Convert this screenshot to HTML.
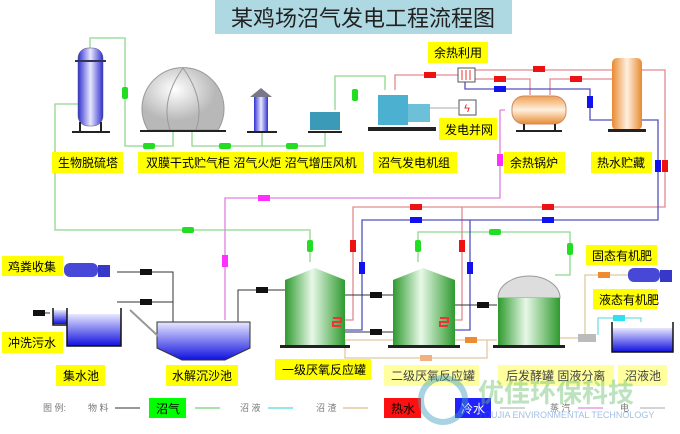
<!DOCTYPE html>
<html><head><meta charset="utf-8"><style>
body{margin:0;background:#fff;}
svg{display:block;font-family:"Liberation Sans","Noto Sans CJK SC",sans-serif;}
.l{font-size:12px;fill:#000;}
</style></head><body>
<svg width="680" height="434" viewBox="0 0 680 434" xmlns="http://www.w3.org/2000/svg">
<defs>
<linearGradient id="bl" x1="0" x2="1"><stop offset="0" stop-color="#3030d0"/><stop offset=".5" stop-color="#e8e8ff"/><stop offset="1" stop-color="#3030d0"/></linearGradient>
<linearGradient id="bv" x1="0" y1="0" x2="0" y2="1"><stop offset="0" stop-color="#e8e8ff"/><stop offset="1" stop-color="#1010e0"/></linearGradient>
<linearGradient id="or" x1="0" x2="1"><stop offset="0" stop-color="#e88a30"/><stop offset=".5" stop-color="#fff0e0"/><stop offset="1" stop-color="#e88a30"/></linearGradient>
<linearGradient id="orv" x1="0" y1="0" x2="0" y2="1"><stop offset="0" stop-color="#f0a050"/><stop offset=".5" stop-color="#fff0e0"/><stop offset="1" stop-color="#e88a30"/></linearGradient>
<linearGradient id="gr" x1="0" x2="1"><stop offset="0" stop-color="#2e9a2e"/><stop offset=".45" stop-color="#e8f8e8"/><stop offset="1" stop-color="#2e9a2e"/></linearGradient>
<radialGradient id="dm" cx=".4" cy=".35"><stop offset="0" stop-color="#fff"/><stop offset="1" stop-color="#b8b8b8"/></radialGradient>
</defs>
<rect x="215" y="0" width="297" height="34" fill="#aed8e2"/>
<text x="363" y="26" font-size="22" text-anchor="middle" fill="#222">某鸡场沼气发电工程流程图</text>

<g fill="none" stroke="#8ed88e" stroke-width="1.3">
<path d="M90 48V38H125V146H173V131"/>
<path d="M192 131V146H325V131"/>
<path d="M262 131V146"/>
<path d="M335 110V76H385V90"/>
<path d="M78 104H55V230H310V262"/>
<path d="M418 262V232H570V275H555"/>
</g>
<g fill="#22dd22">
<rect x="122" y="87" width="6" height="12" rx="2"/>
<rect x="143" y="143" width="12" height="6" rx="2"/>
<rect x="219" y="143" width="12" height="6" rx="2"/>
<rect x="286" y="143" width="12" height="6" rx="2"/>
<rect x="352" y="89" width="6" height="12" rx="2"/>
<rect x="182" y="227" width="12" height="6" rx="2"/>
<rect x="307" y="240" width="6" height="12" rx="2"/>
<rect x="415" y="240" width="6" height="12" rx="2"/>
<rect x="489" y="229" width="12" height="6" rx="2"/>
<rect x="567" y="243" width="6" height="12" rx="2"/>
</g>
<path d="M500 110H505M500 110V198H225V320" fill="none" stroke="#e080e0" stroke-width="1.3"/>
<rect x="497" y="154" width="6" height="12" fill="#ff30ff"/>
<rect x="258" y="195" width="12" height="6" fill="#ff30ff"/>
<rect x="222" y="255" width="6" height="12" fill="#ff30ff"/>
<g fill="none" stroke="#e08a90" stroke-width="1.3">
<path d="M395 90V75H460"/>
<path d="M475 70H612"/>
<path d="M475 79H530V95"/>
<path d="M550 95V79H612"/>
<path d="M641 70H665V207H353V320H340"/>
<path d="M462 207V320H450"/>
</g>
<g fill="none" stroke="#5050c0" stroke-width="1.3">
<path d="M465 80V89H590V120H612"/>
<path d="M641 120H658V220H362V330H345"/>
<path d="M470 220V330H455"/>
</g>
<g fill="#ee1111">
<rect x="424" y="72" width="12" height="6"/><rect x="533" y="66" width="12" height="6"/><rect x="494" y="76" width="12" height="6"/><rect x="570" y="76" width="12" height="6"/>
<rect x="662" y="160" width="6" height="12"/><rect x="410" y="204" width="12" height="6"/><rect x="542" y="204" width="12" height="6"/>
<rect x="350" y="240" width="6" height="12"/><rect x="459" y="240" width="6" height="12"/>
</g>
<g fill="#1111ee">
<rect x="494" y="86" width="12" height="6"/><rect x="587" y="96" width="6" height="12"/><rect x="655" y="160" width="6" height="12"/>
<rect x="410" y="217" width="12" height="6"/><rect x="542" y="217" width="12" height="6"/>
<rect x="359" y="262" width="6" height="12"/><rect x="467" y="262" width="6" height="12"/>
</g>
<g fill="none" stroke="#333" stroke-width="1">
<path d="M117 272H173V322"/><path d="M117 302H173"/><path d="M238 322V290H285"/>
<path d="M345 295H393"/><path d="M345 332H393"/><path d="M455 305H497"/>
<path d="M40 313H50"/>
</g>
<g fill="#111">
<rect x="140" y="269" width="12" height="6"/><rect x="140" y="299" width="12" height="6"/><rect x="256" y="287" width="12" height="6"/>
<rect x="370" y="292" width="12" height="6"/><rect x="370" y="329" width="12" height="6"/><rect x="477" y="302" width="12" height="6"/>
<rect x="33" y="310" width="12" height="6"/>
</g>
<g fill="none" stroke="#e0c8a0" stroke-width="1.3">
<path d="M345 340H497"/><path d="M345 340V358H487V340"/><path d="M560 338H585V275H630"/>
</g>
<rect x="465" y="337" width="12" height="6" fill="#f08a30"/><rect x="420" y="355" width="12" height="6" fill="#f0b080"/><rect x="598" y="272" width="12" height="6" fill="#f08a30"/>
<path d="M598 335V318H641V322" fill="none" stroke="#70e0e0" stroke-width="1.3"/>
<rect x="613" y="315" width="12" height="6" fill="#30e0f0"/>

<rect x="78" y="48" width="25" height="78" rx="10" fill="url(#bl)" stroke="#556" stroke-width=".5"/>
<rect x="75" y="60" width="31" height="2" fill="#335"/>
<path d="M80 122V132M101 122V132" stroke="#222" stroke-width="2"/><rect x="72" y="131" width="38" height="2" fill="#222"/>
<path d="M148 130A41 41 0 1 1 218 130Z" fill="url(#dm)" stroke="#999"/>
<path d="M183 68Q160 100 170 130M183 68Q206 100 196 130" fill="none" stroke="#999"/>
<rect x="140" y="130" width="86" height="2" fill="#222"/>
<rect x="254" y="96" width="14" height="35" fill="url(#bl)"/><path d="M250 97L261 88L272 97Z" fill="#778"/>
<rect x="247" y="131" width="30" height="2" fill="#222"/>
<rect x="310" y="112" width="30" height="18" fill="#3a9ab8"/><rect x="308" y="131" width="34" height="2" fill="#222"/>
<rect x="378" y="95" width="30" height="30" fill="#4cb0d0"/><rect x="408" y="104" width="22" height="18" fill="#6cc0d8"/>
<rect x="368" y="127" width="68" height="4" fill="#222"/>
<rect x="458" y="68" width="17" height="14" fill="#fff" stroke="#555"/><path d="M462 70V80M466 70V80M470 70V80" stroke="#e33"/>
<rect x="459" y="100" width="17" height="15" fill="#fff" stroke="#555"/><text x="467" y="112" font-size="11" fill="#e22" text-anchor="middle">ϟ</text>
<path d="M430 108H459" stroke="#aaa"/>
<rect x="512" y="96" width="54" height="28" rx="12" fill="url(#orv)" stroke="#c86"/>
<path d="M524 124V131M555 124V131" stroke="#222" stroke-width="2"/><rect x="516" y="130" width="46" height="2" fill="#222"/>
<rect x="612" y="58" width="30" height="72" rx="5" fill="url(#or)"/><rect x="608" y="129" width="38" height="3" fill="#222"/>
<rect x="53" y="310" width="14" height="14" fill="url(#bv)"/>
<rect x="67" y="314" width="54" height="32" fill="url(#bv)"/>
<path d="M53 308V325H67V346H121V308M67 308V325" fill="none" stroke="#111" stroke-width="1.5"/>
<path d="M157 322H250V348L225 360H182L157 348Z" fill="url(#bv)" stroke="#333"/>
<path d="M130 310L158 336" stroke="#999" stroke-width="2"/>
<rect x="64" y="263" width="34" height="14" rx="6" fill="#4848d8"/><rect x="98" y="265" width="12" height="12" fill="#3838c8"/>
<rect x="628" y="268" width="32" height="14" rx="6" fill="#4848d8"/><rect x="660" y="270" width="12" height="12" fill="#3838c8"/>
<path d="M285 280L315 268L345 280V345H285Z" fill="url(#gr)"/><rect x="280" y="345" width="70" height="3" fill="#222"/>
<path d="M393 280L423 268L455 280V345H393Z" fill="url(#gr)"/><rect x="388" y="345" width="72" height="3" fill="#222"/>
<path d="M440 318h8v4h-8v4h8" fill="none" stroke="#e33" stroke-width="2"/><path d="M333 318h8v4h-8v4h8" fill="none" stroke="#e33" stroke-width="2"/>
<path d="M498 298A31 22 0 0 1 560 298Z" fill="#ddd" stroke="#999"/>
<rect x="498" y="298" width="62" height="47" fill="url(#gr)"/><rect x="493" y="345" width="72" height="3" fill="#222"/>
<rect x="578" y="334" width="18" height="8" fill="#bbb"/>
<rect x="612" y="328" width="61" height="24" fill="url(#bv)"/><path d="M612 322V352H673V322" fill="none" stroke="#111" stroke-width="1.5"/>

<g fill="#ffff00">
<rect x="52" y="152" width="71" height="21"/><rect x="138" y="152" width="226" height="21"/><rect x="373" y="152" width="84" height="21"/>
<rect x="428" y="42" width="60" height="21"/><rect x="439" y="118" width="58" height="22"/><rect x="504" y="152" width="61" height="21"/><rect x="591" y="152" width="61" height="21"/>
<rect x="2" y="256" width="61" height="20"/><rect x="2" y="332" width="61" height="21"/><rect x="56" y="365" width="49" height="21"/><rect x="166" y="365" width="72" height="21"/>
<rect x="275" y="359" width="96" height="21"/><rect x="384" y="365" width="95" height="21" fill="#ffffa0"/><rect x="498" y="365" width="116" height="21" fill="#ffffa0"/><rect x="618" y="365" width="49" height="21" fill="#ffffa0"/>
<rect x="586" y="245" width="71" height="20"/><rect x="593" y="289" width="64" height="20"/>
</g>
<g class="l">
<text x="58" y="167">生物脱硫塔</text><text x="146" y="167">双膜干式贮气柜 沼气火炬 沼气增压风机</text><text x="378" y="167">沼气发电机组</text>
<text x="434" y="57">余热利用</text><text x="445" y="134">发电并网</text><text x="510" y="167">余热锅炉</text><text x="597" y="167">热水贮藏</text>
<text x="8" y="271">鸡粪收集</text><text x="8" y="347">冲洗污水</text><text x="63" y="380">集水池</text><text x="172" y="380">水解沉沙池</text>
<text x="282" y="374">一级厌氧反应罐</text><text x="391" y="380" fill="#444">二级厌氧反应罐</text><text x="506" y="380" fill="#444">后发酵罐 固液分离</text><text x="625" y="380" fill="#444">沼液池</text>
<text x="592" y="260">固态有机肥</text><text x="599" y="304">液态有机肥</text>
</g>
<g font-size="9" fill="#777">
<text x="43" y="411">图 例:</text><text x="88" y="411">物 料</text><text x="240" y="411">沼 液</text><text x="316" y="411">沼 渣</text><text x="550" y="411">蒸 汽</text><text x="620" y="411">电</text>
</g>
<path d="M115 408H140" stroke="#333"/><path d="M195 408H220" stroke="#8ed88e" stroke-width="1.5"/><path d="M268 408H293" stroke="#70e0e0" stroke-width="1.5"/><path d="M343 408H368" stroke="#e0c8a0" stroke-width="1.5"/>
<path d="M500 408H525" stroke="#aaa"/><path d="M578 408H603" stroke="#e0a0e0" stroke-width="1.5"/><path d="M640 408H665" stroke="#aaa"/>
<rect x="149" y="398" width="37" height="20" fill="#00ff00"/><text x="156" y="413" font-size="12">沼气</text>
<rect x="384" y="398" width="37" height="20" fill="#ff1010"/><text x="391" y="413" font-size="12">热水</text>
<rect x="455" y="398" width="36" height="20" fill="#2222ff"/><text x="461" y="413" font-size="12" fill="#fff">冷水</text>
<g opacity=".45">
<circle cx="443" cy="400" r="22" fill="none" stroke="#40a0c0" stroke-width="6"/>
<text x="478" y="402" font-size="26" font-weight="bold" fill="#6cc070">优佳环保科技</text>
<text x="478" y="418" font-size="9" fill="#3070c0">YOUJIA ENVIRONMENTAL TECHNOLOGY</text>
</g>
</svg>
</body></html>
